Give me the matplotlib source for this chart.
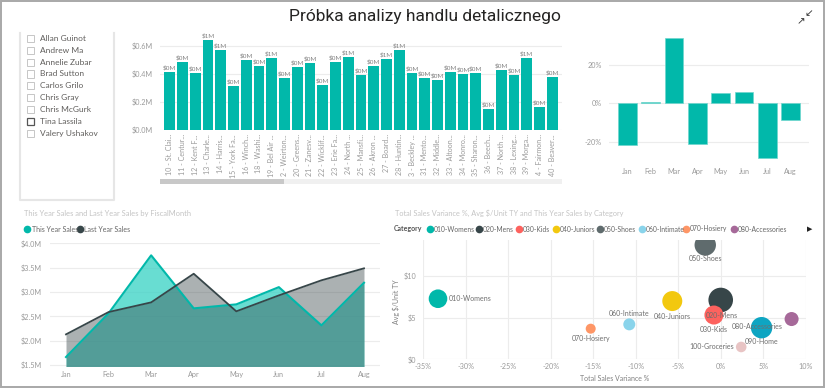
import numpy as np
import matplotlib.pyplot as plt
from matplotlib.patches import Rectangle
from matplotlib.lines import Line2D

W, H = 825, 388
plt.rcParams['font.family'] = ['Lato', 'DejaVu Sans']

teal = '#01B8AA'
dark = '#374649'
grid_c = '#ececec'
tick_c = '#9a9a9a'

# slicer
people = ['Allan Guinot', 'Andrew Ma', 'Annelie Zubar', 'Brad Sutton', 'Carlos Grilo',
          'Chris Gray', 'Chris McGurk', 'Tina Lassila', 'Valery Ushakov']
selected = 'Tina Lassila'

# sales by store
stores = ['10 - St. Clai...', '11 - Centur...', '12 - Kent F...', '13 - Charle...', '14 - Harris...',
          '15 - York Fa...', '16 - Winch...', '18 - Washi...', '19 - Bel Air ...', '2 - Weirton...',
          '20 - Greens...', '21 - Zanesv...', '22 - Wicklif...', '23 - Erie Fa...', '24 - North ...',
          '25 - Mansfi...', '26 - Akron ...', '27 - Board...', '28 - Huntin...', '3 - Beckley ...',
          '31 - Mento...', '32 - Middle...', '33 - Altoon...', '34 - Monro...', '35 - Sharon...',
          '36 - Beech...', '37 - North ...', '38 - Lexing...', '39 - Morga...', '4 - Fairmon...',
          '40 - Beaver...']
store_sales = [0.410, 0.486, 0.408, 0.643, 0.569, 0.315, 0.496, 0.458, 0.515, 0.372,
               0.451, 0.477, 0.318, 0.486, 0.522, 0.394, 0.453, 0.503, 0.572, 0.406,
               0.370, 0.353, 0.410, 0.401, 0.403, 0.147, 0.424, 0.391, 0.510, 0.166,
               0.377]

# variance by month
months = ['Jan', 'Feb', 'Mar', 'Apr', 'May', 'Jun', 'Jul', 'Aug']
variance = [-21.5, 0.4, 33.9, -21.3, 5.5, 6.1, -28.2, -8.8]

# this year / last year sales ($M)
this_year = [1.664, 2.562, 3.753, 2.664, 2.746, 3.10, 2.315, 3.19]
last_year = [2.13, 2.588, 2.787, 3.375, 2.603, 2.93, 3.24, 3.486]

# categories
categories = ['010-Womens', '020-Mens', '030-Kids', '040-Juniors', '050-Shoes', '060-Intimate',
              '070-Hosiery', '080-Accessories', '090-Home', '100-Groceries']
cat_colors = ['#01B8AA', '#374649', '#FD625E', '#F2C80F', '#5F6B6D', '#8AD4EB',
              '#FE9666', '#A66999', '#0EA5C2', '#E8C4C4']
cat_variance = [-33.27, 0.0, -0.8, -5.7, -1.82, -10.76, -15.3, 8.34, 4.81, 2.41]
cat_avg_unit = [7.28, 7.13, 5.32, 7.0, 13.74, 4.2, 3.68, 4.84, 3.8, 1.48]
cat_sales = [2.29, 4.0, 2.39, 2.64, 3.03, 0.95, 0.66, 1.30, 3.03, 0.74]


def box(l, t, r, b):
    return [l / W, 1 - b / H, (r - l) / W, (b - t) / H]


def fx(x):
    return x / W


def fy(y):
    return 1 - y / H


def rect(l, t, r, b, **kw):
    fig.add_artist(Rectangle((fx(l), fy(b)), (r - l) / W, (b - t) / H,
                             transform=fig.transFigure, **kw))


def line(xs, ys, **kw):
    fig.add_artist(Line2D([fx(x) for x in xs], [fy(y) for y in ys],
                          transform=fig.transFigure, **kw))


def clean(ax):
    for s in ax.spines.values():
        s.set_visible(False)
    ax.tick_params(length=0, colors=tick_c, labelsize=5.2)
    ax.set_axisbelow(True)


fig = plt.figure(figsize=(W / 100, H / 100), dpi=100)

# outer frame
rect(0.8, 0.8, 823.5, 386.5, fill=False, edgecolor='#a8a8a8', lw=1.4)

fig.text(fx(425), fy(17), 'Próbka analizy handlu detalicznego', family='Roboto',
         fontsize=12.5, ha='center', va='center', color='#252423')
fig.text(fx(809), fy(13), '↙', family='DejaVu Sans', fontsize=7.5, ha='center', va='center', color='#333')
fig.text(fx(801), fy(21), '↗', family='DejaVu Sans', fontsize=7.5, ha='center', va='center', color='#333')

# slicer
line([20, 20, 114, 114], [33, 200, 200, 33], color='#e6e6e6', lw=1.5)
for i, p in enumerate(people):
    y = 38.3 + i * 11.9
    sel = p == selected
    rect(27, y - 3.5, 34, y + 3.5, fill=False, edgecolor='#555555' if sel else '#c6c6c6', lw=0.9 if sel else 0.7)
    fig.text(fx(40), fy(y), p, fontsize=6.0, color='#605e5c', va='center', ha='left')

# store bar chart
ax1 = fig.add_axes(box(160, 34.4, 562, 130))
clean(ax1)
xs = np.arange(len(stores))
ax1.bar(xs, store_sales, width=0.84, color=teal)
for x, v in zip(xs, store_sales):
    ax1.text(x, v + 0.01, f'${round(v)}M', ha='center', va='bottom', fontsize=4.6, color='#808080',
             clip_on=False)
ax1.set_xlim(-0.76, len(stores) - 0.24)
ax1.set_ylim(0, 0.68)
ax1.set_yticks([0, 0.2, 0.4, 0.6])
ax1.set_yticklabels(['$0.0M', '$0.2M', '$0.4M', '$0.6M'])
ax1.yaxis.grid(True, color=grid_c, lw=0.8)
ax1.set_xticks(xs)
ax1.set_xticklabels(stores, rotation=90, fontsize=5.1)
ax1.tick_params(axis='x', pad=3)
ax1.tick_params(axis='y', pad=5)

# scroll bar
rect(160, 179, 562, 184, color='#f0f0f0', lw=0)
rect(160, 179, 284, 184, color='#c8c8c8', lw=0)

# variance chart
ax2 = fig.add_axes(box(609, 35.9, 809, 161))
clean(ax2)
mx = np.arange(len(months))
ax2.bar(mx, variance, width=0.8, color=teal, edgecolor='#6fd6cd', lw=0.5)
ax2.set_xlim(-0.78, len(months) - 0.22)
ax2.set_ylim(-30, 35)
ax2.set_yticks([-20, 0, 20])
ax2.set_yticklabels(['-20%', '0%', '20%'])
ax2.yaxis.grid(True, color=grid_c, lw=0.8)
ax2.set_xticks(mx)
ax2.set_xticklabels(months)
ax2.tick_params(axis='x', pad=5)
ax2.tick_params(axis='y', pad=5)

# area chart
fig.text(fx(24), fy(213), 'This Year Sales and Last Year Sales by FiscalMonth', fontsize=5.4,
         color='#c4c4c4', va='center')
line([27], [229], marker='o', ms=4.5, color=teal, lw=0)
fig.text(fx(31.5), fy(229), 'This Year Sales', fontsize=5.0, color='#666666', va='center')
line([80], [229], marker='o', ms=4.5, color=dark, lw=0)
fig.text(fx(84.5), fy(229), 'Last Year Sales', fontsize=5.0, color='#666666', va='center')

ax3 = fig.add_axes(box(50, 243.3, 380, 366.5))
clean(ax3)
base = 1.47
ax3.fill_between(mx, base, this_year, color='#36d2c4', alpha=0.75, lw=0)
ax3.fill_between(mx, base, last_year, color=dark, alpha=0.42, lw=0)
ax3.plot(mx, this_year, color=teal, lw=1.5)
ax3.plot(mx, last_year, color=dark, lw=1.3)
ax3.set_xlim(-0.376, len(months) - 1 + 0.376)
ax3.set_ylim(base, 4.0)
ax3.set_yticks([1.5, 2.0, 2.5, 3.0, 3.5, 4.0])
ax3.set_yticklabels(['$1.5M', '$2.0M', '$2.5M', '$3.0M', '$3.5M', '$4.0M'])
ax3.yaxis.grid(True, color=grid_c, lw=0.8)
ax3.set_xticks(mx)
ax3.set_xticklabels(months)
ax3.tick_params(axis='x', pad=3)
ax3.tick_params(axis='y', pad=6)

# scatter
fig.text(fx(395), fy(213), 'Total Sales Variance %, Avg $/Unit TY and This Year Sales by Category',
         fontsize=5.3, color='#c4c4c4', va='center')
fig.text(fx(394), fy(229), 'Category', fontsize=5.0, color='#555555', weight='bold', va='center')
leg_x = [430, 479.3, 519.3, 556, 600, 641.7, 686, 734]
for lx, c, col in zip(leg_x, categories, cat_colors):
    line([lx], [229], marker='o', ms=4.5, color=col, lw=0)
    fig.text(fx(lx + 3.8), fy(229), c, fontsize=4.9, color='#666666', va='center')
fig.text(fx(809.5), fy(229), '▶', family='DejaVu Sans', fontsize=5, color='#222', ha='center', va='center')

ax4 = fig.add_axes(box(423.3, 240, 805.7, 359.3))
clean(ax4)
ax4.set_xlim(-35, 10)
ax4.set_ylim(0, 14.34)
ax4.set_xticks(np.arange(-35, 11, 5))
ax4.set_xticklabels([f'{v}%' for v in range(-35, 11, 5)])
ax4.set_yticks([0, 5, 10])
ax4.set_yticklabels(['$0', '$5', '$10'])
ax4.grid(True, color=grid_c, lw=0.8)
ax4.tick_params(axis='x', pad=3)
ax4.tick_params(axis='y', pad=5)
radius = 6.15 * np.sqrt(np.array(cat_sales))
ax4.scatter(cat_variance, cat_avg_unit, s=(2 * radius * 0.72) ** 2, c=cat_colors, lw=0, zorder=3)
# label offsets in pixels (dx, dy down) and alignment
lab_off = [(11, 0, 'left'), (1, 16, 'center'), (0, 14, 'center'), (0, 15, 'center'),
           (0, 14, 'center'), (0, -10.6, 'center'), (0, 9.6, 'center'), (-34, 7.7, 'center'),
           (0, 14, 'center'), (-7, 0, 'right')]
for c, x, y, (dx, dy, ha) in zip(categories, cat_variance, cat_avg_unit, lab_off):
    ax4.annotate(c, (x, y), xytext=(dx * 0.72, -dy * 0.72), textcoords='offset points',
                 ha=ha, va='center', fontsize=5.0, color='#6e6e6e', zorder=5)
fig.text(fx(396.7), fy(301.7), 'Avg $/Unit TY', rotation=90, fontsize=5.0, color='#808080',
         ha='center', va='center')
fig.text(fx(614.5), fy(378.3), 'Total Sales Variance %', fontsize=5.0, color='#808080',
         ha='center', va='center')

fig.savefig('out.png', dpi=100)
